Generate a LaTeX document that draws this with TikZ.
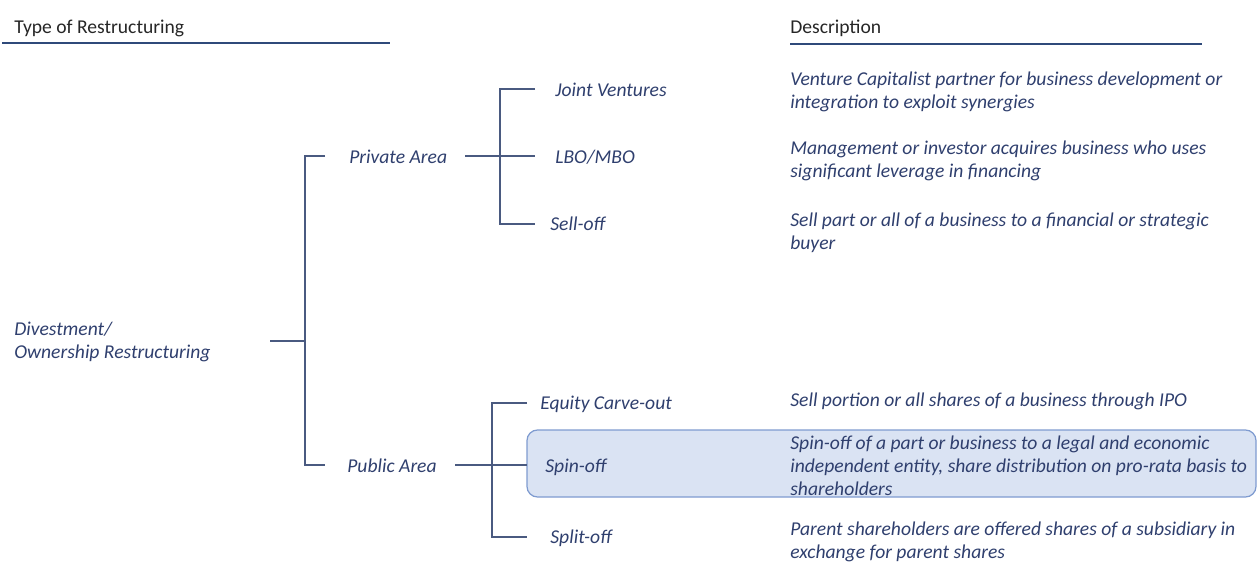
\documentclass[tikz,border=0pt]{standalone}
\usepackage{fontspec}
\setmainfont{Carlito}
\usetikzlibrary{positioning}
\definecolor{txtblue}{HTML}{2F3F6E}
\definecolor{lineblue}{HTML}{4A5A80}
\definecolor{ruleblue}{HTML}{2F4A7A}
\definecolor{boxfill}{HTML}{DAE3F3}
\definecolor{boxdraw}{HTML}{7F9BD0}

\begin{document}
\begin{tikzpicture}[x=0.02cm, y=-0.02cm,
    item/.style={anchor=west, inner sep=0pt, text=txtblue, align=left,
                 font=\itshape\fontsize{11.15}{13}\selectfont},
    head/.style={anchor=west, inner sep=0pt, text=black!85,
                 font=\fontsize{11.15}{13}\selectfont},
    link/.style={draw=lineblue, line width=0.7pt},
    rule/.style={draw=ruleblue, line width=1pt},
    highlight/.style={draw=boxdraw, fill=boxfill, rounded corners=6pt, line width=0.7pt}]
    \useasboundingbox (0,0) rectangle (1258,564);

    % Headers
    \node[head] (type) at (14,28) {Type of Restructuring};
    \node[head] (desc) at (790,28) {Description};
    \draw[rule] (2,43) -- (390,43);
    \draw[rule] (790,44) -- (1202,44);

    % highlighted row
    \draw[highlight] (527,430) rectangle (1256,497);

    % Types
    \node[item] (div) at (14,342) {Divestment/\\Ownership Restructuring};
    \node[item] (priv) at (349,157) {Private Area};
    \node[item] (pub) at (347,466) {Public Area};
    \node[item] (jv) at (555,90) {Joint Ventures};
    \node[item] (lbo) at (555,157) {LBO/MBO};
    \node[item] (sell) at (550,224) {Sell-off};
    \node[item] (ecar) at (540,404) {Equity Carve-out};
    \node[item] (spin) at (545,467) {Spin-off};
    \node[item] (split) at (550,538) {Split-off};

    % Descriptions
    \node[item] (jvtxt) at (790,92) {Venture Capitalist partner for business development or\\integration to exploit synergies};
    \node[item] (lbotxt) at (790,161) {Management or investor acquires business who uses\\significant leverage in financing};
    \node[item] (selltxt) at (790,233) {Sell part or all of a business to a financial or strategic\\buyer};
    \node[item] (ecartxt) at (790,401) {Sell portion or all shares of a business through IPO};
    \node[item] (spintxt) at (790,466) {Spin-off of a part or business to a legal and economic\\independent entity, share distribution on pro-rata basis to\\shareholders};
    \node[item] (splittxt) at (790,542) {Parent shareholders are offered shares of a subsidiary in\\exchange for parent shares};

    % Brackets
    \coordinate (d0) at (270,341);
    \coordinate (d1) at (305,341);
    \coordinate (p0) at (325,156);
    \coordinate (u0) at (325,465);
    \draw[link] (d0) -- (d1);
    \draw[link] (p0) -| (d1) |- (u0);

    \coordinate (p1) at (465,156);
    \coordinate (pj) at (500,156);
    \coordinate (p2) at (535,156);
    \coordinate (jv0) at (535,89);
    \coordinate (sell0) at (535,224);
    \draw[link] (p1) -- (p2);
    \draw[link] (jv0) -| (pj) |- (sell0);

    \coordinate (u1) at (455,465);
    \coordinate (uj) at (492,465);
    \coordinate (u2) at (527,465);
    \coordinate (ec0) at (527,403);
    \coordinate (sp0) at (527,537);
    \draw[link] (u1) -- (u2);
    \draw[link] (ec0) -| (uj) |- (sp0);

\end{tikzpicture}
\end{document}
